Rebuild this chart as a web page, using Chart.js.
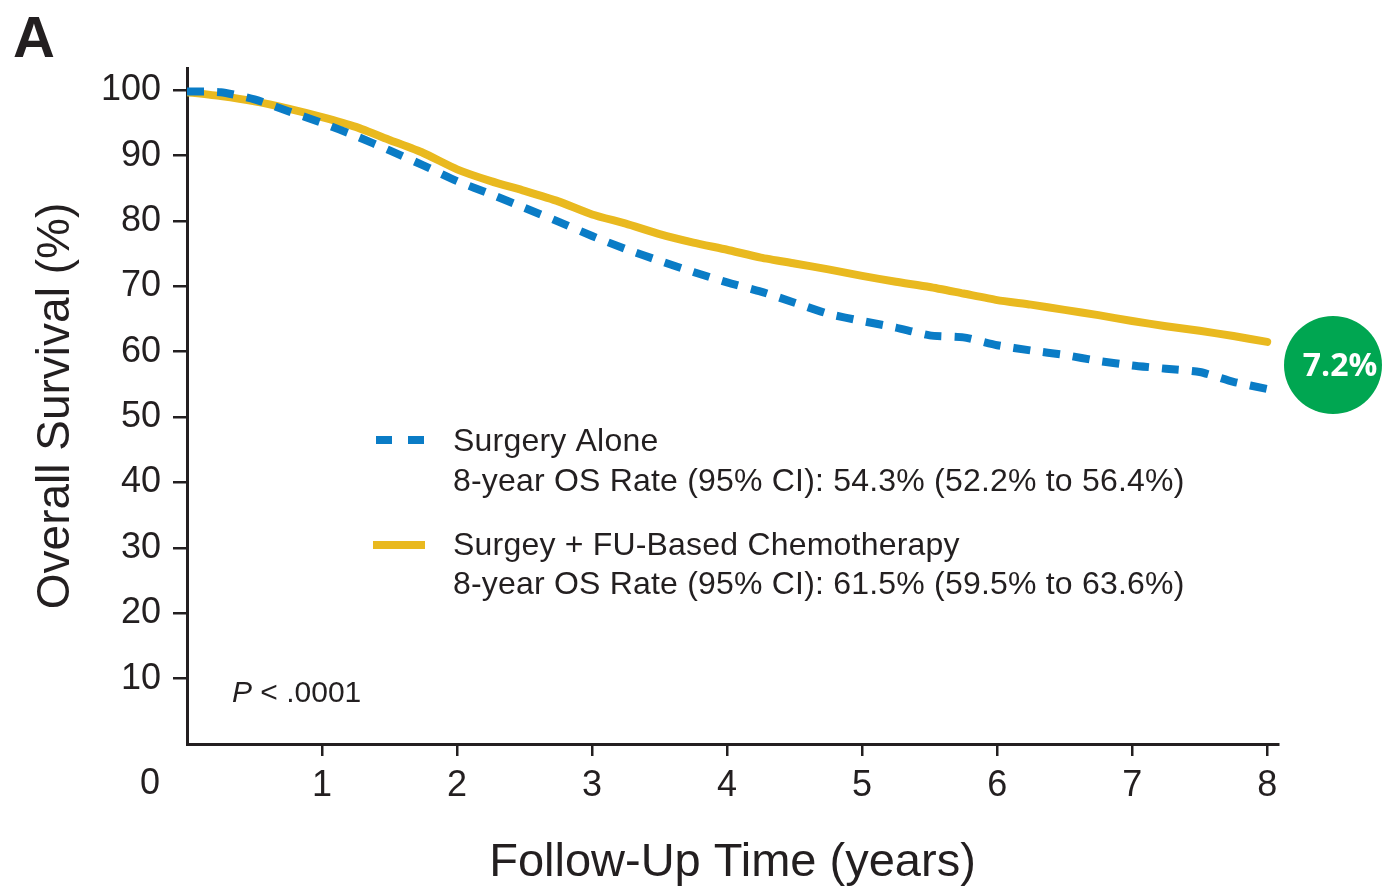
<!DOCTYPE html>
<html>
<head>
<meta charset="utf-8">
<script src="https://cdn.jsdelivr.net/npm/chart.js@4.4.1/dist/chart.umd.min.js"></script>
<style>
  body { margin: 0; background: #fff; }
  #wrap { width: 1383px; height: 889px; }
</style>
</head>
<body>
<div id="wrap"><canvas id="osChart" width="1383" height="889"></canvas></div>
<script>
// Follow-up time (years) and overall survival (%)
const years = [0, 0.25, 0.5, 0.75, 1, 1.25, 1.5, 1.75, 2, 2.25, 2.5, 2.75, 3, 3.25, 3.5, 3.75,
  4, 4.25, 4.5, 4.75, 5, 5.25, 5.5, 5.75, 6, 6.25, 6.5, 6.75, 7, 7.25, 7.5, 7.75, 8];
const surgeryAlone = [99.8, 99.7, 98.6, 96.8, 95.0, 93.0, 90.8, 88.5, 86.1, 84.1, 82.0, 79.9, 77.7, 75.7, 73.9, 72.2,
  70.6, 69.2, 67.5, 65.8, 64.7, 63.7, 62.5, 62.2, 61.0, 60.2, 59.5, 58.6, 57.9, 57.4, 56.9, 55.4, 54.3];
const surgeryChemo = [99.7, 99.1, 98.3, 97.2, 95.9, 94.4, 92.4, 90.4, 87.9, 86.1, 84.6, 83.0, 81.0, 79.6, 78.0, 76.7,
  75.6, 74.4, 73.5, 72.6, 71.6, 70.7, 69.9, 68.9, 67.9, 67.2, 66.4, 65.6, 64.7, 63.9, 63.2, 62.4, 61.5];
const xTicks = [1, 2, 3, 4, 5, 6, 7, 8];
const yTicks = [10, 20, 30, 40, 50, 60, 70, 80, 90, 100];

const legendItems = [
  { name: 'Surgery Alone', rate: '8-year OS Rate (95% CI): 54.3% (52.2% to 56.4%)' },
  { name: 'Surgey + FU-Based Chemotherapy', rate: '8-year OS Rate (95% CI): 61.5% (59.5% to 63.6%)' }
];
const diffLabel = '7.2%';

const inkColor = '#231f20';
const blueColor = '#0a7cc6';
const yellowColor = '#e9b91f';
const greenColor = '#00a651';
const fontFamily = '"Liberation Sans", Arial, sans-serif';

function toPoints(values) {
  return years.map((t, i) => ({ x: t, y: values[i] }));
}

// Extra drawing: panel letter, corner zero, legend, p value, difference badge
const annotations = {
  id: 'annotations',
  afterDraw(chart) {
    const ctx = chart.ctx;
    const xs = chart.scales.x;
    ctx.save();
    ctx.fillStyle = inkColor;

    // panel letter
    ctx.font = 'bold 58px ' + fontFamily;
    ctx.textAlign = 'left';
    ctx.textBaseline = 'alphabetic';
    ctx.fillText('A', 13, 57);

    // corner zero
    ctx.font = '36px ' + fontFamily;
    ctx.textAlign = 'center';
    ctx.textBaseline = 'middle';
    ctx.fillText('0', xs.left - 37, 784);

    // legend
    ctx.lineCap = 'butt';
    ctx.lineWidth = 8;
    ctx.strokeStyle = blueColor;
    ctx.beginPath();
    ctx.moveTo(376, 440); ctx.lineTo(392, 440);
    ctx.moveTo(408, 440); ctx.lineTo(424, 440);
    ctx.stroke();
    ctx.strokeStyle = yellowColor;
    ctx.beginPath();
    ctx.moveTo(373, 545); ctx.lineTo(425, 545);
    ctx.stroke();

    ctx.font = '32px ' + fontFamily;
    ctx.letterSpacing = '0.2px';
    ctx.textAlign = 'left';
    ctx.fillText(legendItems[0].name, 453, 442);
    ctx.fillText(legendItems[0].rate, 453, 482);
    ctx.fillText(legendItems[1].name, 453, 546);
    ctx.fillText(legendItems[1].rate, 453, 585);
    ctx.letterSpacing = '0px';

    // p value
    ctx.font = 'italic 30px ' + fontFamily;
    ctx.fillText('P', 232, 694);
    const pw = ctx.measureText('P').width;
    ctx.font = '30px ' + fontFamily;
    ctx.fillText(' < .0001', 232 + pw, 694);

    // difference badge
    ctx.fillStyle = greenColor;
    ctx.beginPath();
    ctx.arc(1333, 365, 49, 0, Math.PI * 2);
    ctx.fill();
    ctx.fillStyle = '#ffffff';
    ctx.font = 'bold 32px "Open Sans", "Noto Sans", sans-serif';
    ctx.textAlign = 'center';
    ctx.fillText(diffLabel, 1340, 367);
    ctx.restore();
  }
};

const ctx = document.getElementById('osChart');
const osChart = new Chart(ctx, {
  type: 'line',
  data: {
    datasets: [
      {
        label: legendItems[0].name,
        data: toPoints(surgeryAlone),
        borderColor: blueColor,
        borderWidth: 8,
        borderDash: [17, 13],
        borderCapStyle: 'butt',
        pointRadius: 0,
        tension: 0.2,
        fill: false
      },
      {
        label: legendItems[1].name,
        data: toPoints(surgeryChemo),
        borderColor: yellowColor,
        borderWidth: 8,
        borderCapStyle: 'round',
        pointRadius: 0,
        tension: 0.2,
        fill: false
      }
    ]
  },
  options: {
    responsive: false,
    animation: false,
    layout: {
      padding: { top: 68, right: 105, left: 0, bottom: 0 }
    },
    plugins: {
      legend: { display: false },
      tooltip: { enabled: false }
    },
    scales: {
      x: {
        type: 'linear',
        min: 0,
        max: 8.08,
        afterBuildTicks: scale => { scale.ticks = xTicks.map(v => ({ value: v })); },
        afterFit: scale => { scale.height = 145; },
        grid: {
          drawOnChartArea: false,
          drawTicks: true,
          tickLength: 12,
          color: inkColor,
          lineWidth: 2.5
        },
        border: { display: true, color: inkColor, width: 3 },
        ticks: {
          color: inkColor,
          font: { family: fontFamily, size: 36 },
          padding: 8,
          maxRotation: 0
        },
        title: {
          display: true,
          text: 'Follow-Up Time (years)',
          color: inkColor,
          font: { family: fontFamily, size: 47 },
          padding: { top: 0, bottom: -2 }
        }
      },
      y: {
        min: 0,
        max: 103.4,
        afterBuildTicks: scale => { scale.ticks = yTicks.map(v => ({ value: v })); },
        afterFit: scale => { scale.width = 187; },
        grid: {
          drawOnChartArea: false,
          drawTicks: true,
          tickLength: 14,
          color: inkColor,
          lineWidth: 2.5
        },
        border: { display: true, color: inkColor, width: 3 },
        ticks: {
          color: inkColor,
          font: { family: fontFamily, size: 36 },
          padding: 12
        },
        title: {
          display: true,
          text: 'Overall Survival (%)',
          color: inkColor,
          font: { family: fontFamily, size: 46 },
          padding: { top: 29, bottom: 0 }
        }
      }
    }
  },
  plugins: [annotations]
});
</script>
</body>
</html>
